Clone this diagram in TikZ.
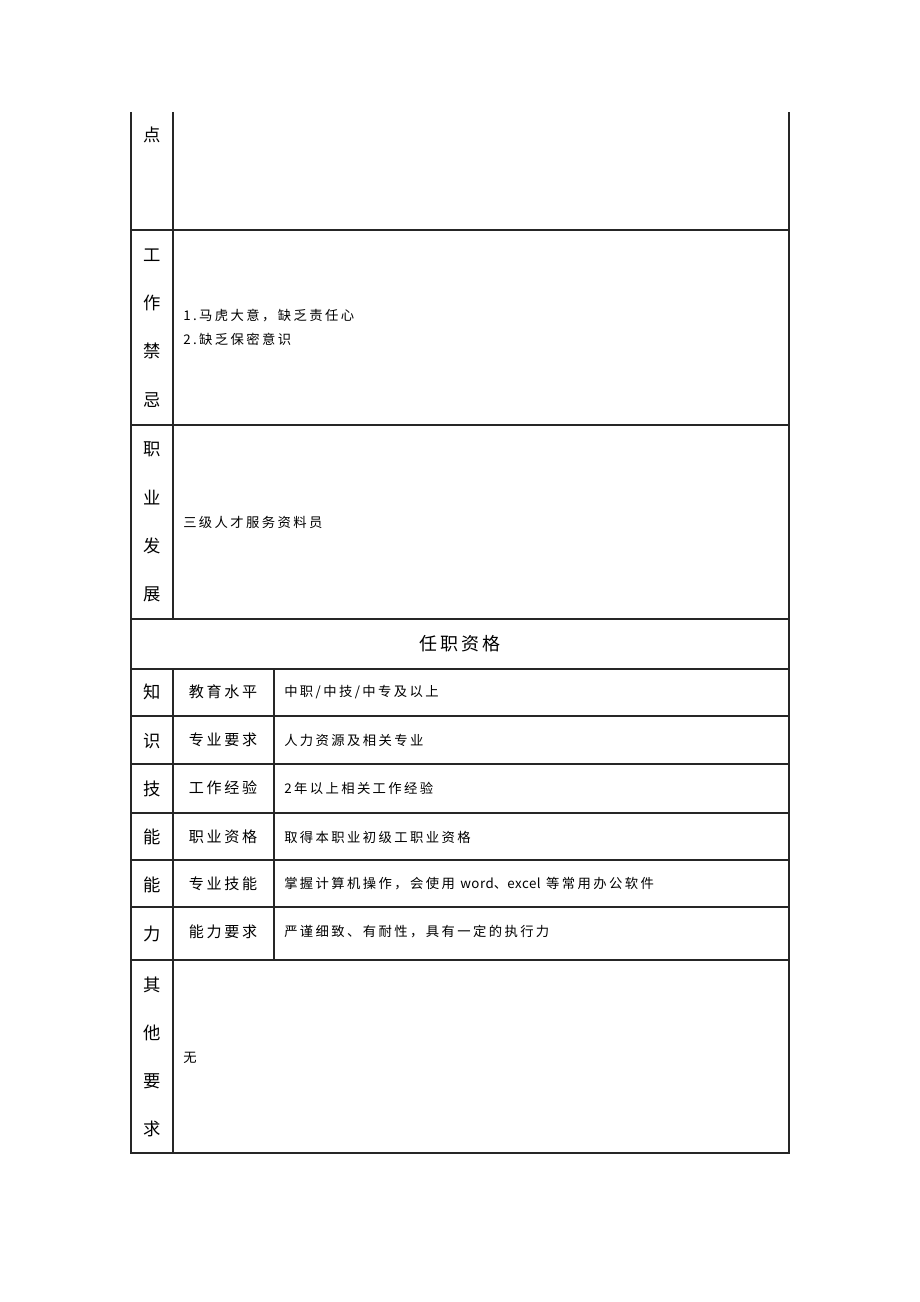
\documentclass[tikz,border=0pt]{standalone}
\usepackage{fontspec}
\newfontfamily\cjk[LetterSpace=18]{Noto Sans CJK SC}
\newfontfamily\latn[LetterSpace=4]{Noto Sans CJK SC}
\usepackage{tikz}
\usetikzlibrary{positioning}

\begin{document}
\begin{tikzpicture}[
  x=0.75pt, y=-0.75pt,
  rule/.style={line width=1pt, black!85},
  side/.style={font=\cjk\fontsize{13}{36.2}\selectfont, align=center, inner sep=0pt},
  head/.style={font=\cjk\fontsize{13.5}{16}\selectfont, inner sep=0pt},
  field/.style={font=\cjk\fontsize{11.3}{14}\selectfont, inner sep=0pt},
  body/.style={font=\cjk\fontsize{10}{18}\selectfont, anchor=west, align=left, inner sep=0pt}
]
  % page frame
  \useasboundingbox (0,0) rectangle (920,1302);

  % table rules
  \draw[rule] (131,112) -- (131,1153) -- (789,1153) -- (789,112);
  \draw[rule] (173,112) -- (173,619);
  \draw[rule] (173,669) -- (173,1153);
  \draw[rule] (274,669) -- (274,960);
  \foreach \y in {230,425,619,669,716,764,813,860,907,960}
    \draw[rule] (131,\y) -- (789,\y);

  % left column
  \node[side] (dian) at (152,135) {点};
  \node[side] (jinji) at (152,328) {工\\作\\禁\\忌};
  \node[side] (fazhan) at (152,522) {职\\业\\发\\展};
  \node[side] (nengli) at (152,813) {知\\识\\技\\能\\能\\力};
  \node[side] (qita) at (152,1057) {其\\他\\要\\求};

  % section heading
  \node[head] (zige) at (460,644) {任职资格};

  % free text cells
  \node[body] (jinjitext) at (183,327) {1.马虎大意，缺乏责任心\\2.缺乏保密意识};
  \node[body] (fazhantext) at (183,522) {三级人才服务资料员};
  \node[body] (qitatext) at (183,1058) {无};

  % qualification rows
  \node[field] (f1) at (223,692) {教育水平};
  \node[field] (f2) at (223,740) {专业要求};
  \node[field] (f3) at (223,788) {工作经验};
  \node[field] (f4) at (223,837) {职业资格};
  \node[field] (f5) at (223,884) {专业技能};
  \node[field] (f6) at (223,932) {能力要求};

  \node[body] (v1) at (284,692) {中职/中技/中专及以上};
  \node[body] (v2) at (284,740) {人力资源及相关专业};
  \node[body] (v3) at (284,788) {2年以上相关工作经验};
  \node[body] (v4) at (284,837) {取得本职业初级工职业资格};
  \node[body] (v5) at (284,884) {掌握计算机操作，会使用 {\latn word}、{\latn excel} 等常用办公软件};
  \node[body] (v6) at (284,932) {严谨细致、有耐性，具有一定的执行力};
\end{tikzpicture}
\end{document}
